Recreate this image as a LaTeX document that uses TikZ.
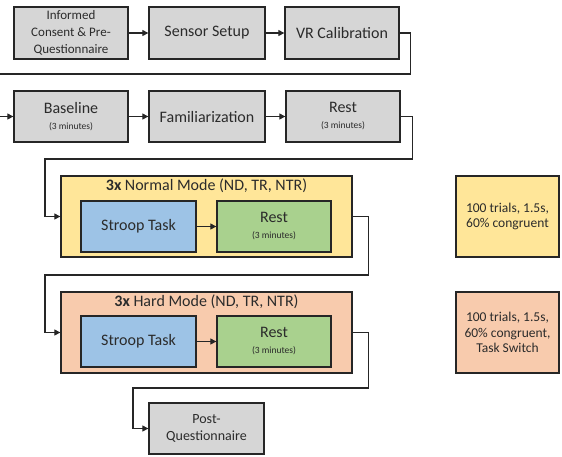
\documentclass[tikz,border=0pt]{standalone}
\usepackage{fontspec}
\setmainfont{Carlito}
\usetikzlibrary{arrows.meta}
\definecolor{boxgray}{HTML}{D6D6D6}
\definecolor{boxblue}{HTML}{9DC3E6}
\definecolor{boxgreen}{HTML}{A9D18E}
\definecolor{boxyellow}{HTML}{FFE699}
\definecolor{boxorange}{HTML}{F8CBAD}
\definecolor{edgec}{HTML}{262626}
\definecolor{textc}{HTML}{2B2B2B}
\tikzset{
  stepbox/.style={draw=edgec, line width=1.3pt, fill=boxgray, text=textc, align=center,
    minimum width=115pt, minimum height=51pt, inner sep=1pt,
    font=\fontsize{16}{17}\selectfont},
  modebox/.style={draw=edgec, line width=1.3pt, minimum width=291pt, minimum height=81pt, inner sep=0pt},
  notebox/.style={draw=edgec, line width=1.3pt, text=textc, align=center,
    minimum width=103pt, minimum height=81pt, inner sep=1pt,
    font=\fontsize{13.5}{15.3}\selectfont},
  titletext/.style={text=textc, font=\fontsize{16}{17}\selectfont, inner sep=0pt},
  conn/.style={draw=edgec, line width=1.1pt, -{Triangle[length=6pt,width=6pt]}},
}
\newcommand{\minutes}{\\[-1pt]{\fontsize{9.5}{10}\selectfont(3 minutes)}}
\begin{document}
\begin{tikzpicture}[x=1pt,y=-1pt]
\useasboundingbox (0,0) rectangle (562,456);
% row 1
\node[stepbox, minimum width=114pt, minimum height=52pt, font=\fontsize{13}{17}\selectfont] (inf) at (71,33) {Informed\\Consent \& Pre-\\Questionnaire};
\node[stepbox, minimum width=116pt, minimum height=52pt] (sen) at (207,33) {Sensor Setup};
\node[stepbox, minimum width=114pt, minimum height=52pt] (vr) at (342,33) {VR Calibration};
% row 2
\node[stepbox, minimum width=114pt] (base) at (71,116.5) {Baseline\minutes};
\node[stepbox, minimum width=116pt] (fam) at (207,116.5) {Familiarization};
\node[stepbox, minimum width=114pt] (rest1) at (343,116.5) {Rest\minutes};
% normal mode
\node[modebox, fill=boxyellow] (normal) at (206.5,216.5) {};
\node[titletext] (normtitle) at (206.5,186) {\textbf{3x} Normal Mode (ND, TR, NTR)};
\node[stepbox, fill=boxblue] (stroop1) at (138.5,226.5) {Stroop Task};
\node[stepbox, fill=boxgreen, minimum width=114pt] (rest2) at (274,226.5) {Rest\minutes};
% hard mode
\node[modebox, fill=boxorange] (hard) at (206.5,332.5) {};
\node[titletext] (hardtitle) at (206.5,302) {\textbf{3x} Hard Mode (ND, TR, NTR)};
\node[stepbox, fill=boxblue] (stroop2) at (138.5,341.5) {Stroop Task};
\node[stepbox, fill=boxgreen, minimum width=114pt] (rest3) at (274,341.5) {Rest\minutes};
% post
\node[stepbox, font=\fontsize{14}{16.7}\selectfont] (post) at (206.5,428.5) {Post-\\Questionnaire};
% notes
\node[notebox, fill=boxyellow] (note1) at (507.5,216.5) {100 trials, 1.5s,\\60\% congruent};
\node[notebox, fill=boxorange] (note2) at (507.5,332.5) {100 trials, 1.5s,\\60\% congruent,\\Task Switch};
% connectors
\draw[conn] (inf) -- (sen);
\draw[conn] (sen) -- (vr);
\draw[conn] (vr.east) -- ++(11,0) |- (-3,74) |- (base.west);
\draw[conn] (base) -- (fam);
\draw[conn] (fam) -- (rest1);
\draw[conn] (rest1.east) -- ++(12,0) |- (45,159) |- (normal.west);
\draw[conn] (stroop1) -- (rest2);
\draw[conn] (normal.east) -- ++(16,0) |- (45,275) |- (hard.west);
\draw[conn] (stroop2) -- (rest3);
\draw[conn] (hard.east) -- ++(16,0) |- (133,388) |- (post.west);
\end{tikzpicture}
\end{document}
